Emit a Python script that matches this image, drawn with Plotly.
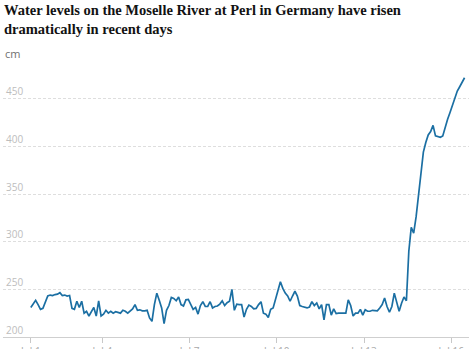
import pandas as pd
import plotly.graph_objects as go

# Moselle water level at Perl, readings every two hours (cm)
start_time = "2021-07-01 13:00"
step = "2h"
level_cm = [
    231, 235, 238.5, 234, 229, 230, 236, 243, 244, 243.5,
    244.5, 245, 246.5, 243.5, 244, 243, 243.5, 230, 229, 237.5,
    231, 237.5, 225, 227, 222, 226, 231, 222, 238, 222,
    224, 228, 225, 227, 225, 226.5, 226, 225, 228, 227,
    225, 227, 229.5, 234, 228, 228.5, 227.5, 227.5, 228, 220,
    216.5, 234, 246, 238.5, 230.5, 214, 228, 233, 241.5, 240.5,
    238, 242, 234, 232.5, 239, 239.5, 234, 229, 231, 224,
    233, 237, 232, 232, 237, 230.5, 232, 232.5, 234.5, 238,
    233, 236, 237.5, 250, 228, 234.5, 234, 234, 221, 229,
    233.5, 232, 229.5, 230, 234, 237, 225, 224, 220.5, 229,
    230.5, 240.5, 250, 258, 251, 246, 243, 237.5, 243, 248,
    243, 233, 232, 231.5, 230.5, 231.5, 237, 233, 235.7, 229.5,
    234, 218, 234, 234, 223, 229.5, 224.5, 225, 225, 225,
    225, 239, 233, 222, 225, 225, 229, 223, 228.5, 227,
    227, 228, 228, 227.5, 230.5, 234, 241, 232, 226, 232,
    246, 236, 227, 235.5, 242, 238, 290, 315, 309, 326,
    347, 374, 394, 404, 412, 415.5, 422, 411, 410.5, 409.5,
    411, 420.5, 428.5, 435.5, 443.5, 451, 458, 462.5, 468, 472,
]
times = pd.date_range(start_time, periods=len(level_cm), freq=step)

# Axis ticks: first tick sits at the first reading
tick_dates = [times[0], "2021-07-04", "2021-07-07", "2021-07-10", "2021-07-13", "2021-07-16"]
tick_labels = ["Jul 1", "Jul 4", "Jul 7", "Jul 10", "Jul 13", "Jul 16"]
y_ticks = [200, 250, 300, 350, 400, 450]

x_range = ["2021-06-30 14:03", "2021-07-16 14:40"]
y_range = [200, 490.6]

W, H = 469, 349
M = dict(l=3, r=0, t=60, b=12)
plot_h = H - M["t"] - M["b"]

fig = go.Figure(
    go.Scatter(
        x=times,
        y=level_cm,
        mode="lines",
        line=dict(color="#1b6fa3", width=1.7),
        hoverinfo="skip",
    )
)

fig.update_layout(
    width=W,
    height=H,
    margin=M,
    paper_bgcolor="white",
    plot_bgcolor="white",
    showlegend=False,
    annotations=[
        dict(
            text="<b>Water levels on the Moselle River at Perl in Germany have risen<br>dramatically in recent days</b>",
            xref="paper",
            yref="paper",
            x=0,
            y=1 + (M["t"] - 1) / plot_h,
            xanchor="left",
            yanchor="top",
            align="left",
            showarrow=False,
            borderpad=0,
            font=dict(family="Liberation Serif", size=14.5, color="#121212"),
        ),
        dict(
            text="cm",
            xref="paper",
            yref="paper",
            x=0,
            y=1 + 6 / plot_h,
            xanchor="left",
            yanchor="middle",
            showarrow=False,
            font=dict(family="Open Sans", size=11, color="#707070"),
        ),
    ],
)

fig.update_xaxes(
    range=x_range,
    automargin=False,
    tickvals=tick_dates,
    ticktext=tick_labels,
    ticks="outside",
    ticklen=5,
    tickcolor="#c8c8c8",
    showline=True,
    linecolor="#cfcfcf",
    linewidth=1,
    showgrid=False,
    zeroline=False,
    tickfont=dict(family="Open Sans", size=10, color="#a8a8a8"),
)

fig.update_yaxes(
    range=y_range,
    automargin=False,
    tickvals=y_ticks,
    ticks="",
    ticklabelposition="inside top",
    showgrid=True,
    gridcolor="#dedede",
    griddash="3px,2px",
    gridwidth=1,
    zeroline=False,
    showline=False,
    tickfont=dict(family="Open Sans", size=10, color="#bdbdbd"),
)

fig.write_html("out.html")
